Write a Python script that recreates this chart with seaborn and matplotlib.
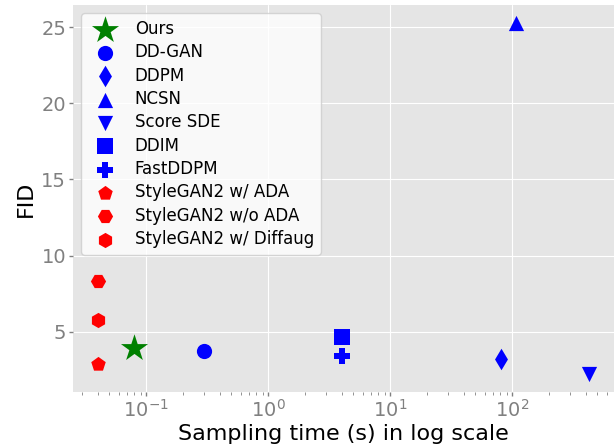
import matplotlib
matplotlib.use("Agg")
import matplotlib.pyplot as plt
import seaborn as sns

# datos (tiempo de muestreo en s, FID)
metodos = ["Ours", "DD-GAN", "DDPM", "NCSN", "Score SDE", "DDIM", "FastDDPM",
           "StyleGAN2 w/ ADA", "StyleGAN2 w/o ADA", "StyleGAN2 w/ Diffaug"]
tiempo = [0.08, 0.30, 81, 108, 430, 4.0, 4.0, 0.04, 0.04, 0.04]
fid = [3.95, 3.75, 3.21, 25.3, 2.2, 4.67, 3.41, 2.87, 8.32, 5.79]

marcadores = ["*", "o", "d", "^", "v", "s", "P", "p", "H", "h"]
colores = ["green", "blue", "blue", "blue", "blue", "blue", "blue", "red", "red", "red"]

sns.set_style("darkgrid", rc={
    "axes.facecolor": "#E5E5E5",
    "grid.color": "white",
    "xtick.color": "gray",
    "ytick.color": "gray",
    "xtick.bottom": True,
    "ytick.left": True,
    "text.color": "black",
    "axes.labelcolor": "black",
})
plt.rcParams["font.family"] = ["DejaVu Sans"]

fig, ax = plt.subplots(figsize=(6.14, 4.48), dpi=100)
for nombre, t, f, m, c in zip(metodos, tiempo, fid, marcadores, colores):
    tam = 420 if m == "*" else 120
    sns.scatterplot(x=[t], y=[f], marker=m, color=c, s=tam, linewidth=0,
                    label=nombre, ax=ax)

ax.set_xscale("log")
ax.set_xlabel("Sampling time (s) in log scale", fontsize=16, color="black", labelpad=2)
ax.set_ylabel("FID", fontsize=16, color="black", labelpad=4)
ax.tick_params(axis="both", labelsize=14, length=3, width=1, pad=2)
ax.legend(loc="upper left", fontsize=12, frameon=True, facecolor="white",
          framealpha=0.8, edgecolor="#CCCCCC", labelspacing=0.32)
for s in ax.spines.values():
    s.set_visible(False)

fig.subplots_adjust(left=73/614, right=1.0, top=1-5/448, bottom=1-392/448)
fig.savefig("out.png", dpi=100)
